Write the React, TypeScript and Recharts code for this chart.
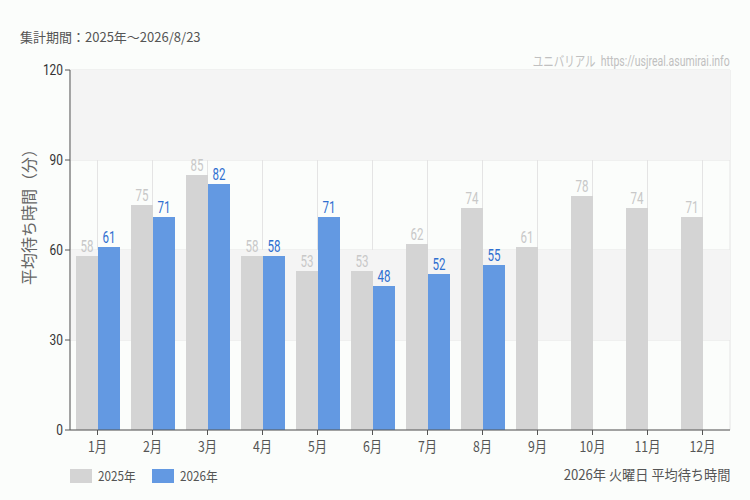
import React from 'react';
import { BarChart, Bar, XAxis, YAxis, CartesianGrid, LabelList, ReferenceArea } from 'recharts';

const months = ['1月', '2月', '3月', '4月', '5月', '6月', '7月', '8月', '9月', '10月', '11月', '12月'];
const values2025 = [58, 75, 85, 58, 53, 53, 62, 74, 61, 78, 74, 71];
const values2026: (number | null)[] = [61, 71, 82, 58, 71, 48, 52, 55, null, null, null, null];
const yTicks = [0, 30, 60, 90, 120];

const data = months.map((m, i) => ({ month: m, y2025: values2025[i], y2026: values2026[i] }));

const NUM = 'Roboto, "DejaVu Sans", sans-serif';
const JP = '"Noto Sans CJK JP", "Noto Sans", sans-serif';

const makeLabel = (color: string) => (props: any) => {
  const { x, y, width, value } = props;
  if (value == null) return null;
  const cx = Number(x) + Number(width) / 2;
  const by = Number(y) - 4;
  return (
    <text
      x={cx}
      y={by}
      textAnchor="middle"
      fill={color}
      fontSize={17}
      fontFamily={NUM}
      transform={`translate(${cx},${by}) scale(0.68,1) translate(${-cx},${-by})`}
    >
      {value}
    </text>
  );
};

const XTick = (props: any) => {
  const { x, y, payload } = props;
  return (
    <g transform={`translate(${x},${y})`}>
      <text x={0} y={0} dy={15} textAnchor="middle" fill="#555" fontSize={15} fontFamily={JP} transform="scale(0.82,1)">
        {payload.value}
      </text>
    </g>
  );
};

const YTick = (props: any) => {
  const { x, y, payload } = props;
  return (
    <g transform={`translate(${x},${y})`}>
      <text x={0} y={0} dy={5} textAnchor="end" fill="#333" fontSize={14} fontFamily={NUM} transform="scale(0.85,1)">
        {payload.value}
      </text>
    </g>
  );
};

const YLabel = () => (
  <text x={30} y={213} textAnchor="middle" fill="#666" fontSize={16} fontFamily={JP} transform="rotate(-90,30,213)" dy={5}>
    平均待ち時間（分）
  </text>
);

export default function App() {
  return (
    <div style={{ position: 'absolute', left: 0, top: 0, width: 750, height: 500, background: '#fbfdfb', fontFamily: JP }}>
      <div style={{ position: 'absolute', left: 20, top: 27, fontSize: 13, color: '#555' }}>集計期間：2025年～2026/8/23</div>
      <div
        style={{
          position: 'absolute',
          right: 20,
          top: 50,
          fontSize: 14,
          color: '#c0c0c0',
          fontFamily: NUM,
          whiteSpace: 'nowrap',
          transform: 'scaleX(0.75)',
          transformOrigin: 'right center',
        }}
      >
        <span style={{ fontFamily: JP }}>ユニバリアル</span>&nbsp; https://usjreal.asumirai.info
      </div>
      <BarChart
        width={750}
        height={500}
        data={data}
        margin={{ top: 70, right: 20, left: 0, bottom: 40 }}
        barCategoryGap={5.5}
        barGap={0}
      >
        <ReferenceArea y1={90} y2={120} fill="#f4f4f4" fillOpacity={1} stroke="none" ifOverflow="visible" />
        <ReferenceArea y1={30} y2={60} fill="#f4f4f4" fillOpacity={1} stroke="none" ifOverflow="visible" />
        <CartesianGrid stroke="#e4e4e4" />
        <XAxis dataKey="month" height={30} stroke="#555" tickLine={{ stroke: '#555' }} tickSize={5} tick={<XTick />} />
        <YAxis width={70} domain={[0, 120]} ticks={yTicks} stroke="#555" tickSize={5} tick={<YTick />} label={<YLabel />} />
        <Bar dataKey="y2025" fill="#d4d4d4" barSize={22} isAnimationActive={false}>
          <LabelList dataKey="y2025" content={makeLabel('#c8c8c8')} />
        </Bar>
        <Bar dataKey="y2026" fill="#6399e2" barSize={22} isAnimationActive={false}>
          <LabelList dataKey="y2026" content={makeLabel('#2f6fd0')} />
        </Bar>
      </BarChart>
      <div style={{ position: 'absolute', left: 70, top: 466, display: 'flex', alignItems: 'center', fontSize: 13, color: '#555' }}>
        <span style={{ display: 'inline-block', width: 22, height: 14, background: '#d4d4d4', marginRight: 6 }} />
        <span style={{ display: 'inline-block', transform: 'scaleX(0.9)', transformOrigin: 'left center', width: 54 }}>2025年</span>
        <span style={{ display: 'inline-block', width: 22, height: 14, background: '#6399e2', marginRight: 6 }} />
        <span style={{ display: 'inline-block', transform: 'scaleX(0.9)', transformOrigin: 'left center' }}>2026年</span>
      </div>
      <div
        style={{
          position: 'absolute',
          right: 20,
          top: 464,
          fontSize: 14,
          color: '#555',
          whiteSpace: 'nowrap',
          transform: 'scaleX(0.94)',
          transformOrigin: 'right center',
        }}
      >
        2026年 火曜日 平均待ち時間
      </div>
    </div>
  );
}
